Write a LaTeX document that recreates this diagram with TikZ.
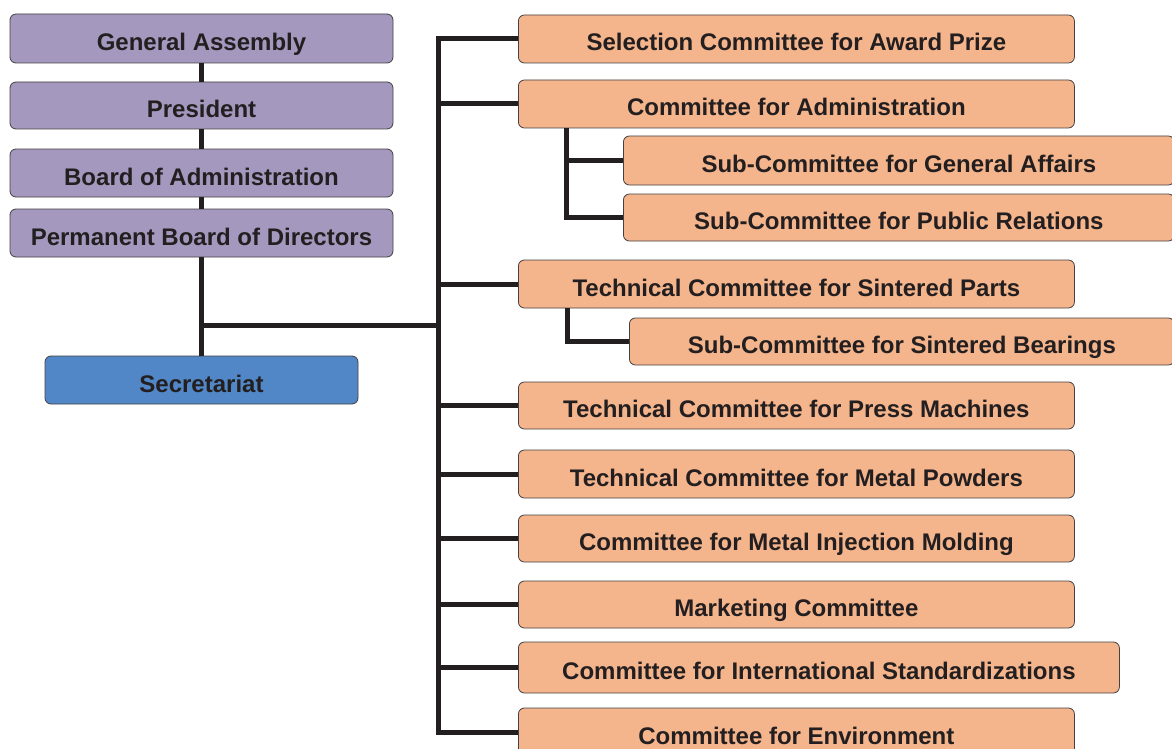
\documentclass[tikz,border=0pt]{standalone}
\usepackage{fontspec}
\setmainfont{Liberation Sans}
\definecolor{lilac}{RGB}{164,152,190}
\definecolor{salmon}{RGB}{244,180,140}
\definecolor{steel}{RGB}{81,135,199}
\definecolor{ink}{RGB}{35,31,32}
\begin{document}
\begin{tikzpicture}[x=1pt,y=-1pt,
  box/.style={draw=ink!85,line width=0.8pt,rounded corners=6pt,inner sep=0pt,
    font=\fontsize{24}{28}\selectfont\bfseries,text=ink,minimum height=48pt,
    text height=26pt,text depth=2pt},
  trunk/.style={ink,line width=5pt}]
  \useasboundingbox (0,0) rectangle (1172,749);
  % left column
  \node[box,fill=lilac,minimum width=383pt,minimum height=49pt] (ga) at (201.5,38.5) {General Assembly};
  \node[box,fill=lilac,minimum width=383pt,minimum height=47pt] (pres) at (201.5,105.5) {President};
  \node[box,fill=lilac,minimum width=383pt] (boa) at (201.5,173) {Board of Administration};
  \node[box,fill=lilac,minimum width=383pt] (pbd) at (201.5,233) {Permanent Board of Directors};
  \node[box,fill=steel,minimum width=313pt] (sec) at (201.5,380) {Secretariat};
  % committees
  \foreach \n/\y/\w/\h/\t in {sel/39/556/48/Selection Committee for Award Prize,
      admin/104/556/48/Committee for Administration,
      parts/284/556/48/Technical Committee for Sintered Parts,
      press/405.5/556/47/Technical Committee for Press Machines,
      powders/474/556/48/Technical Committee for Metal Powders,
      mim/538.5/556/47/Committee for Metal Injection Molding,
      mkt/604.5/556/47/Marketing Committee,
      intl/667.5/601/51/Committee for International Standardizations,
      env/732/556/48/Committee for Environment} {
    \node[box,fill=salmon,anchor=west,minimum width=\w pt,minimum height=\h pt] (\n) at (518,\y) {\t};
  }
  \node[box,fill=salmon,anchor=west,minimum width=551pt,minimum height=49pt] (subga) at (623,160.5) {Sub-Committee for General Affairs};
  \node[box,fill=salmon,anchor=west,minimum width=551pt,minimum height=47pt] (subpr) at (623,217.5) {Sub-Committee for Public Relations};
  \node[box,fill=salmon,anchor=west,minimum width=545pt,minimum height=47pt] (sbear) at (629,341.5) {Sub-Committee for Sintered Bearings};
  % connectors
  \coordinate (spine) at (438,325);
  \coordinate (adminfoot) at ([xshift=48pt]admin.south west);
  \coordinate (partsfoot) at ([xshift=49pt]parts.south west);
  \draw[trunk] (ga) -- (pres) (pres) -- (boa) (boa) -- (pbd) (pbd) -- (sec);
  \draw[trunk] (spine -| sec.north) -- (spine);
  \draw[trunk] (sel.west) -| (spine) |- (env.west);
  \foreach \n in {admin,parts,press,powders,mim,mkt,intl}
    \draw[trunk] (\n.west) -- (\n.west -| spine);
  \draw[trunk] (subpr.west) -| (adminfoot);
  \draw[trunk] (subga.west) -- (subga.west -| adminfoot);
  \draw[trunk] (sbear.west) -| (partsfoot);
\end{tikzpicture}
\end{document}
